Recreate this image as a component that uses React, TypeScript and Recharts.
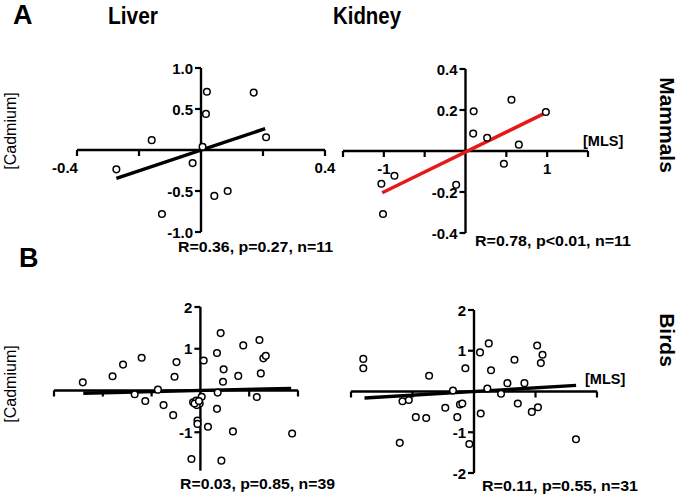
import React from "react";
import { Scatter, ScatterChart, XAxis, YAxis } from "recharts";

const FONT = "'Liberation Sans', Arial, Helvetica, sans-serif";
const RED = "#e61919";

// A - mammals, liver
const liverMammalsX = [0.019, 0.016, 0.17, -0.159, 0.21, 0.005, -0.027, -0.273, 0.043, 0.086, -0.126];
const liverMammalsY = [0.71, 0.44, 0.7, 0.12, 0.155, 0.04, -0.16, -0.236, -0.56, -0.5, -0.78];
const liverMammalsFitX = [-0.273, 0.207];
const liverMammalsFitY = [-0.346, 0.26];

// A - mammals, kidney
const kidneyMammalsX = [0.1, 0.094, 0.265, 0.563, 0.984, 0.653, 0.47, -0.87, -1.03, -1.01, -0.114];
const kidneyMammalsY = [0.194, 0.085, 0.065, 0.25, 0.19, 0.031, -0.062, -0.121, -0.16, -0.307, -0.165];
const kidneyMammalsFitX = [-1.02, 0.98];
const kidneyMammalsFitY = [-0.204, 0.186];

// B - birds, liver
const liverBirdsX = [
  -2.41, -1.8, -1.585, -1.204, -0.49, -0.53, -0.87, -1.347, -1.129, -0.755, -0.558, 0.068, 0.34,
  0.415, 0.878, 1.21, 1.29, 1.34, 0.476, 0.463, 0.776, 1.238, 0.354, 1.156, 0.027, -0.15, -0.086,
  -0.014, -0.075, -0.12, -0.03, 0.34, -0.06, -0.06, 0.155, 0.667, 1.88, -0.184, 0.43,
];
const liverBirdsY = [
  0.195, 0.34, 0.62, 0.785, 0.68, 0.33, 0.02, -0.09, -0.25, -0.35, -0.59, 0.72, 0.9, 1.375, 1.08,
  1.21, 0.77, 0.83, 0.506, 0.21, 0.35, 0.41, -0.05, -0.155, -0.15, -0.28, -0.24, -0.31, -0.35,
  -0.31, -0.25, -0.44, -0.72, -0.8, -0.87, -0.98, -1.03, -1.64, -1.68,
];
const liverBirdsFitX = [-2.4, 1.86];
const liverBirdsFitY = [-0.067, 0.052];

// B - birds, kidney
const kidneyBirdsX = [
  -1.8, -1.8, -0.73, -0.14, 0.098, 0.24, 0.277, 0.217, 0.658, 0.543, 0.82, 1.027, 1.114, 1.087,
  0.44, 0.712, 0.94, 1.04, 0.109, 1.658, -0.342, -1.163, -1.06, -0.467, -0.228, -0.19, -0.272,
  -0.946, -0.777, -1.207, -0.076,
];
const kidneyBirdsY = [
  0.8, 0.57, 0.385, 0.57, 0.96, 1.18, 0.52, 0.074, 0.78, 0.205, 0.205, 1.13, 0.9, 0.7, -0.057,
  -0.295, -0.5, -0.385, -0.54, -1.17, 0.025, -0.24, -0.21, -0.4, -0.32, -0.295, -0.63, -0.63,
  -0.65, -1.26, -1.29,
];
const kidneyBirdsFitX = [-1.78, 1.66];
const kidneyBirdsFitY = [-0.16, 0.15];

// axis ticks
const liverMammalsXTicks = [-0.4, -0.2, 0.2, 0.4];
const liverMammalsXLabels = ["-0.4", "", "", "0.4"];
const liverMammalsYTicks = [1, 0.5, -0.5, -1];
const liverMammalsYLabels = ["1.0", "0.5", "-0.5", "-1.0"];
const kidneyMammalsXTicks = [-1.5, -1, -0.5, 0.5, 1, 1.5];
const kidneyMammalsXLabels = ["", "-1", "", "", "1", ""];
const kidneyMammalsYTicks = [0.4, 0.2, -0.2, -0.4];
const kidneyMammalsYLabels = ["0.4", "0.2", "-0.2", "-0.4"];
const liverBirdsXTicks = [-3, -2, -1, 1, 2];
const liverBirdsYTicks = [2, 1, -1];
const liverBirdsYLabels = ["2", "1", "-1"];
const kidneyBirdsXTicks = [-2, -1, 1, 2];
const kidneyBirdsYTicks = [2, 1, -1, -2];
const kidneyBirdsYLabels = ["2", "1", "-1", "-2"];

const toPoints = (xs: number[], ys: number[]) => xs.map((x, i) => ({ x, y: ys[i] }));

const PAD = 40;

const noShape = () => <g />;

const circleShape = (p: any) => (
  <circle cx={p.cx} cy={p.cy} r={3.3} fill="#fff" stroke="#000" strokeWidth={1.5} />
);

const xTickShape = (p: any) => (
  <g>
    <line x1={p.cx} y1={p.cy} x2={p.cx} y2={p.cy + 6} stroke="#000" strokeWidth={2.2} />
    {p.payload?.label ? (
      <text x={p.cx + (p.payload.dx || 0)} y={p.cy + 23} textAnchor="middle" fontFamily={FONT} fontWeight="bold" fontSize={15}>
        {p.payload.label}
      </text>
    ) : null}
  </g>
);

const yTickShape = (p: any) => (
  <g>
    <line x1={p.cx} y1={p.cy} x2={p.cx - 6} y2={p.cy} stroke="#000" strokeWidth={2.2} />
    {p.payload?.label ? (
      <text x={p.cx - 8} y={p.cy + 5.5} textAnchor="end" fontFamily={FONT} fontWeight="bold" fontSize={15}>
        {p.payload.label}
      </text>
    ) : null}
  </g>
);

type PanelProps = {
  box: [number, number, number, number];
  xDomain: [number, number];
  yDomain: [number, number];
  yAxisFrom?: number;
  xTicks: number[];
  xLabels?: string[];
  firstLabelDx?: number;
  yTicks: number[];
  yLabels: string[];
  xs: number[];
  ys: number[];
  fitX: number[];
  fitY: number[];
  fitColor: string;
};

function Panel({ box, xDomain, yDomain, yAxisFrom, xTicks, xLabels, firstLabelDx, yTicks, yLabels, xs, ys, fitX, fitY, fitColor }: PanelProps) {
  const [left, top, w, h] = box;
  const xAxisLine = [
    { x: xDomain[0], y: 0 },
    { x: xDomain[1], y: 0 },
  ];
  const yAxisLine = [
    { x: 0, y: yAxisFrom ?? yDomain[0] },
    { x: 0, y: yDomain[1] },
  ];
  const xTickData = xTicks.map((t, i) => ({
    x: t,
    y: 0,
    label: xLabels ? xLabels[i] : "",
    dx: i === 0 ? firstLabelDx || 0 : 0,
  }));
  const yTickData = yTicks.map((t, i) => ({ x: 0, y: t, label: yLabels[i] }));

  return (
    <div style={{ position: "absolute", left: left - PAD, top: top - PAD }}>
      <ScatterChart width={w + 2 * PAD} height={h + 2 * PAD} margin={{ top: PAD, right: PAD, bottom: PAD, left: PAD }}>
        <XAxis type="number" dataKey="x" domain={xDomain} hide height={0} />
        <YAxis type="number" dataKey="y" domain={yDomain} hide width={0} />
        <Scatter data={xAxisLine} line={{ stroke: "#000", strokeWidth: 2.4 }} shape={noShape} isAnimationActive={false} />
        <Scatter data={yAxisLine} line={{ stroke: "#000", strokeWidth: 2.4 }} shape={noShape} isAnimationActive={false} />
        <Scatter data={xTickData} shape={xTickShape} isAnimationActive={false} />
        <Scatter data={yTickData} shape={yTickShape} isAnimationActive={false} />
        <Scatter data={toPoints(fitX, fitY)} line={{ stroke: fitColor, strokeWidth: 3.4 }} shape={noShape} isAnimationActive={false} />
        <Scatter data={toPoints(xs, ys)} shape={circleShape} isAnimationActive={false} />
      </ScatterChart>
    </div>
  );
}

const txt = { fontFamily: FONT, fontWeight: "bold" as const };

export default function App() {
  return (
    <div style={{ position: "absolute", left: 0, top: 0, width: 684, height: 494, background: "#fff", overflow: "hidden" }}>
      <Panel
        box={[77, 68, 248, 164]}
        xDomain={[-0.4, 0.4]}
        yDomain={[-1, 1]}
        xTicks={liverMammalsXTicks}
        xLabels={liverMammalsXLabels}
        firstLabelDx={-12}
        yTicks={liverMammalsYTicks}
        yLabels={liverMammalsYLabels}
        xs={liverMammalsX}
        ys={liverMammalsY}
        fitX={liverMammalsFitX}
        fitY={liverMammalsFitY}
        fitColor="#000"
      />
      <Panel
        box={[343, 69, 245, 164]}
        xDomain={[-1.5, 1.5]}
        yDomain={[-0.4, 0.4]}
        xTicks={kidneyMammalsXTicks}
        xLabels={kidneyMammalsXLabels}
        yTicks={kidneyMammalsYTicks}
        yLabels={kidneyMammalsYLabels}
        xs={kidneyMammalsX}
        ys={kidneyMammalsY}
        fitX={kidneyMammalsFitX}
        fitY={kidneyMammalsFitY}
        fitColor={RED}
      />
      <Panel
        box={[54, 307, 244, 167]}
        xDomain={[-3, 2]}
        yDomain={[-2, 2]}
        yAxisFrom={-1.92}
        xTicks={liverBirdsXTicks}
        yTicks={liverBirdsYTicks}
        yLabels={liverBirdsYLabels}
        xs={liverBirdsX}
        ys={liverBirdsY}
        fitX={liverBirdsFitX}
        fitY={liverBirdsFitY}
        fitColor="#000"
      />
      <Panel
        box={[351, 310, 246, 163]}
        xDomain={[-2, 2]}
        yDomain={[-2, 2]}
        xTicks={kidneyBirdsXTicks}
        yTicks={kidneyBirdsYTicks}
        yLabels={kidneyBirdsYLabels}
        xs={kidneyBirdsX}
        ys={kidneyBirdsY}
        fitX={kidneyBirdsFitX}
        fitY={kidneyBirdsFitY}
        fitColor="#000"
      />
      <svg width={684} height={494} style={{ position: "absolute", left: 0, top: 0, pointerEvents: "none" }}>
        <text x={13} y={24} fontSize={27} {...txt}>A</text>
        <text x={19} y={267} fontSize={27} {...txt}>B</text>
        <text x={108} y={24} fontSize={23} textLength={50} lengthAdjust="spacingAndGlyphs" {...txt}>Liver</text>
        <text x={333} y={24} fontSize={23} textLength={68} lengthAdjust="spacingAndGlyphs" {...txt}>Kidney</text>
        <text transform="translate(16,131) rotate(-90)" textAnchor="middle" fontSize={16} fontFamily={FONT}>[Cadmium]</text>
        <text transform="translate(16,384) rotate(-90)" textAnchor="middle" fontSize={16} fontFamily={FONT}>[Cadmium]</text>
        <text transform="translate(660,125) rotate(90)" textAnchor="middle" fontSize={21} {...txt}>Mammals</text>
        <text transform="translate(660,340) rotate(90)" textAnchor="middle" fontSize={21} {...txt}>Birds</text>
        <text x={583} y={146} fontSize={14.5} {...txt}>[MLS]</text>
        <text x={585} y={384} fontSize={14.5} {...txt}>[MLS]</text>
        <text x={178} y={252} fontSize={14.5} textLength={155} lengthAdjust="spacingAndGlyphs" {...txt}>R=0.36, p=0.27, n=11</text>
        <text x={475} y={246} fontSize={14.5} textLength={156} lengthAdjust="spacingAndGlyphs" {...txt}>R=0.78, p&lt;0.01, n=11</text>
        <text x={180} y={489} fontSize={14.5} textLength={155} lengthAdjust="spacingAndGlyphs" {...txt}>R=0.03, p=0.85, n=39</text>
        <text x={482} y={491} fontSize={14.5} textLength={156} lengthAdjust="spacingAndGlyphs" {...txt}>R=0.11, p=0.55, n=31</text>
      </svg>
    </div>
  );
}
